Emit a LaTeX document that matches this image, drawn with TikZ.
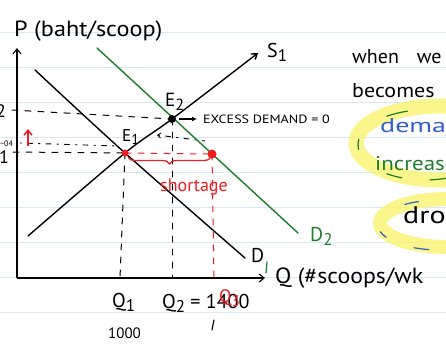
\documentclass[tikz,border=0pt]{standalone}
\usepackage{fontspec}
\setmainfont{PT Sans}
\usetikzlibrary{arrows.meta,decorations.pathreplacing}
\definecolor{rulec}{RGB}{214,233,248}
\definecolor{hl}{RGB}{250,244,110}
\definecolor{dgreen}{RGB}{30,125,45}
\definecolor{pblue}{RGB}{50,95,200}
\definecolor{pred}{RGB}{235,30,35}
\newcommand\lsub[1]{\raisebox{-0.45ex}{\scalebox{0.85}{#1}}}
\newcommand\widen[2]{\scalebox{#1}[1]{#2}}
\begin{document}
\begin{tikzpicture}[x=1pt,y=-1pt,
  ink/.style={line width=1.4pt, line cap=round, line join=round},
  axis/.style={line width=1.1pt, -{Straight Barb[length=5pt,width=8pt]}},
  dsh/.style={line width=1pt, line cap=round, dash pattern=on 6pt off 7pt},
  dotl/.style={line width=0.9pt, line cap=round, dash pattern=on 1.5pt off 6pt on 5pt off 6pt},
  hand/.style={inner sep=0pt, anchor=base west, font=\fontsize{20}{22}\selectfont},
  dot/.style={circle, fill, inner sep=0pt, minimum size=8pt},
  hlring/.style={draw=hl, opacity=0.8}]
\useasboundingbox (0,0) rectangle (446,343);
\clip (0,0) rectangle (446,343);
\fill[white] (0,0) rectangle (446,343);
\foreach \y in {32,67,...,315} \draw[rulec, line width=0.9pt] (0,\y) -- (446,\y);

% highlighter rings
\draw[hlring, line width=15pt] (440,143) ellipse [x radius=84, y radius=37];
\draw[hlring, line width=14pt] (448,223) ellipse [x radius=68, y radius=24];
% green and blue dashes
\foreach \a/\b in {235/255, 172/190, 110/125, 70/86, 290/300}
  \draw[dgreen, line width=1.2pt] (425,145) ++(\a:67 and 35) arc[start angle=\a, end angle=\b, x radius=67, y radius=35];
\foreach \a/\b in {235/250, 150/165, 100/115, 70/80}
  \draw[pblue, line width=1.2pt] (440,225) ++(\a:62 and 25) arc[start angle=\a, end angle=\b, x radius=62, y radius=25];

% key points
\coordinate (O) at (17,278);
\coordinate (ytip) at (17,48);
\coordinate (xtip) at (265,278);
\coordinate (E1) at (125,153);
\coordinate (E2) at (172,119);
\coordinate (F) at (212,154);
\coordinate (s0) at (28,236);
\coordinate (s1) at (258,53);
\coordinate (d0) at (35,70);
\coordinate (d1) at (245,258);
\coordinate (g0) at (97,48);
\coordinate (g1) at (298,233);
\coordinate (p2) at (12,110);
\coordinate (p1) at (13,152);
\coordinate (q1) at (120,278);
\coordinate (q2) at (172,278);
\coordinate (q3) at (214,280);

% axes
\draw[axis] (O) -- (ytip);
\draw[axis] (O) -- (xtip);

% dashed guides
\draw[dsh] (p2) -- (E2);
\draw[dsh] (p1) -- (E1);
\draw[dsh] (E1) -- (q1);
\draw[dsh] (E2) -- (q2);
\draw[dotl] (20,143) -- (118,146);
\draw[dotl, {Straight Barb[length=3pt,width=5pt]}-] (157,135) -- (205,141);
\draw[dsh, pred] (E1) -- (F);
\draw[dsh, pred] (F) -- (q3);

% curves
\draw[ink, dgreen] (g0) -- (g1);
\draw[dgreen, line width=1.2pt, line cap=round] (267,262) -- (266,273);
\draw[ink] plot[smooth, tension=0.5] coordinates {(d0) (E1) (d1)};
\draw[ink, -{Straight Barb[length=5pt,width=7pt]}] plot[smooth, tension=0.5] coordinates {(s0) (E1) (E2) (s1)};

% points
\node[dot, pred, minimum size=7pt] (E1d) at (E1) {};
\node[dot] (E2d) at (E2) {};
\node[dot, pred, minimum size=9pt] (Fd) at (F) {};
\coordinate (ar) at (197,119);
\draw[line width=1.2pt, -{Latex[length=5pt,width=5pt]}] (E2d.east) ++(3,0) -- (ar);

% shortage
\draw[pred, line width=1.3pt, decorate, decoration={brace, amplitude=7pt, mirror}] (128,157) -- (211,157);
\node[hand, pred, font=\fontsize{18}{20}\selectfont] (short) at (160,191) {shortage};
\draw[pred, line width=1.5pt, -{Straight Barb[length=5pt,width=8pt]}] (28,146) -- (28,129);

% labels
\node[hand, font=\fontsize{22}{24}\selectfont] (ptitle) at (14,36) {\widen{1.1}{P (baht/scoop)}};
\node[hand, font=\fontsize{22}{24}\selectfont] (qtitle) at (275,283) {\widen{1.08}{Q (\#scoops/wk}};
\node[hand] (S1l) at (267,57) {S\lsub{1}};
\node[hand] (Dl) at (251,262) {D};
\node[hand, dgreen] (D2l) at (310,241) {D\lsub{2}};
\node[hand, font=\fontsize{17}{19}\selectfont] (E1l) at (122,141) {E\lsub{1}};
\node[hand, font=\fontsize{19}{21}\selectfont] (E2l) at (165,106) {E\lsub{2}};
\node[hand, font=\fontsize{12}{14}\selectfont] (exd) at (203,123) {\widen{1.17}{EXCESS DEMAND = 0}};
\node[hand] (Q1l) at (112,307) {Q\lsub{1}};
\node[hand] (Q2l) at (162,308) {Q\lsub{2} = 1400};
\node[hand, pred, font=\fontsize{18}{20}\selectfont] (Q3l) at (219,302) {Q\lsub{3}};
\node[hand, font=\fontsize{15}{17}\selectfont] (thou) at (108,338) {1000};
\draw[line width=1.1pt, line cap=round] (214,320) -- (212,330);
\node[hand, font=\fontsize{18}{20}\selectfont] (P2l) at (-4,117) {2};
\node[hand, font=\fontsize{18}{20}\selectfont] (P1l) at (-1,163) {1};
\node[hand, font=\fontsize{8}{9}\selectfont] (P1v) at (0,146) {\textasciitilde04};

% notes on the right
\node[hand] (n1) at (352,63) {when\hspace{18pt}we};
\node[hand] (n2) at (352,97) {\widen{1.1}{becomes}};
\node[hand, pblue] (n3) at (380,132) {\widen{1.4}{demand}};
\node[hand, dgreen] (n4) at (375,170) {\widen{1.15}{increase}};
\node[hand, font=\fontsize{24}{26}\selectfont] (n5) at (403,223) {\widen{1.25}{drop}};
\end{tikzpicture}
\end{document}
